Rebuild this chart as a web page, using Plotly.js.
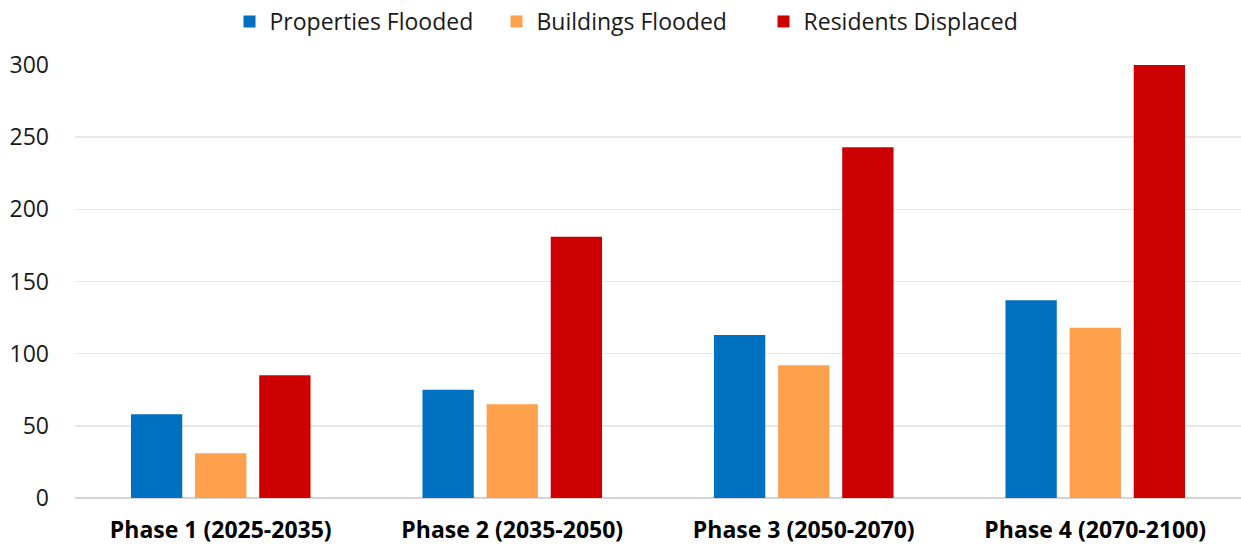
<!DOCTYPE html>
<html>
<head>
<meta charset="utf-8">
<script src="https://cdn.plot.ly/plotly-3.0.1.min.js"></script>
<style>html,body{margin:0;padding:0;background:#fff;}#chart{width:1241px;height:546px;}</style>
</head>
<body>
<div id="chart"></div>
<script>
const categories = ["Phase 1 (2025-2035)", "Phase 2 (2035-2050)", "Phase 3 (2050-2070)", "Phase 4 (2070-2100)"];
const seriesNames = ["Properties Flooded", "Buildings Flooded", "Residents Displaced"];
const propertiesFlooded = [58, 75, 113, 137];
const buildingsFlooded = [31, 65, 92, 118];
const residentsDisplaced = [85, 181, 243, 300];
const yTicks = [0, 50, 100, 150, 200, 250, 300];
const colors = ["#0070C0", "#FFA04C", "#CC0000"];

const seriesValues = [propertiesFlooded, buildingsFlooded, residentsDisplaced];
const data = seriesValues.map((vals, i) => ({
  type: "bar",
  name: seriesNames[i],
  x: categories,
  y: vals,
  marker: {color: colors[i], line: {width: 0}},
  hoverinfo: "y+name"
}));

const font = "'Open Sans', 'Noto Sans', sans-serif";
const layout = {
  width: 1241,
  height: 546,
  margin: {l: 75, r: 0, t: 64, b: 48, pad: 0},
  paper_bgcolor: "#ffffff",
  plot_bgcolor: "#ffffff",
  barmode: "group",
  bargap: 0.34,
  bargroupgap: 0.2,
  showlegend: true,
  legend: {
    orientation: "h",
    x: 0.476, xanchor: "center", xref: "paper",
    y: 1.101, yanchor: "middle", yref: "paper",
    font: {family: font, size: 23, color: "#1a1a1a"},
    itemwidth: 30,
    entrywidth: 222,
    entrywidthmode: "pixels",
    tracegroupgap: 0
  },
  xaxis: {
    type: "category",
    tickfont: {family: font, size: 23, color: "#000000", weight: "bold"},
    showgrid: false,
    showline: false,
    ticks: "",
    ticklabelstandoff: 16
  },
  yaxis: {
    range: [0, 300],
    tickvals: yTicks,
    ticktext: yTicks.map(String),
    tickfont: {family: font, size: 23, color: "#1a1a1a"},
    showgrid: true,
    gridcolor: "#e8e8e8",
    gridwidth: 1.5,
    zeroline: true,
    zerolinecolor: "#d4d4d4",
    zerolinewidth: 1.5,
    showline: false,
    ticks: "",
    ticklabelstandoff: 25
  }
};

Plotly.newPlot("chart", data, layout, {displayModeBar: false, staticPlot: true});
</script>
</body>
</html>
